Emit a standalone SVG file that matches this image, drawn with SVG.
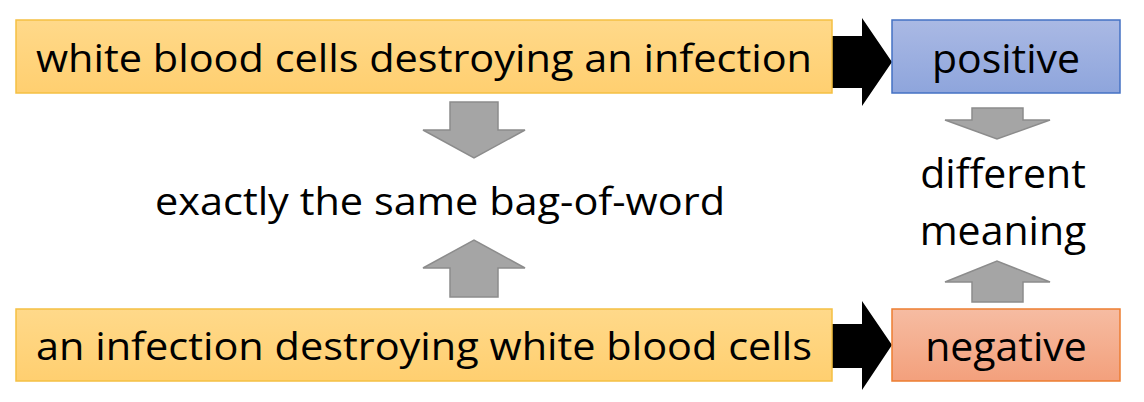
<svg xmlns="http://www.w3.org/2000/svg" width="1144" height="402" viewBox="0 0 1144 402">
<defs>
<linearGradient id="gy" x1="0" y1="0" x2="0" y2="1"><stop offset="0" stop-color="#ffd98a"/><stop offset="1" stop-color="#ffcf70"/></linearGradient>
<linearGradient id="gb" x1="0" y1="0" x2="0" y2="1"><stop offset="0" stop-color="#aab9e4"/><stop offset="1" stop-color="#8ea5dc"/></linearGradient>
<linearGradient id="gr" x1="0" y1="0" x2="0" y2="1"><stop offset="0" stop-color="#f6bca2"/><stop offset="1" stop-color="#f3a07c"/></linearGradient>
<style>
text{font-family:"Open Sans","Liberation Sans",sans-serif;font-size:38px;fill:#000;text-anchor:middle;dominant-baseline:central}
.s{font-size:41px}
.g{fill:#a5a5a5;stroke:#8c8c8c;stroke-width:1.5}
</style>
</defs>
<g id="connectors">
<polygon points="832,36 862,36 862,18 892,62 862,106 862,88 832,88" fill="#000"/>
<polygon points="832,324 862,324 862,301 892,345 862,390 862,368 832,368" fill="#000"/>
<polygon class="g" points="450,102 498,102 498,130 525,130 474,158 423,130 450,130"/>
<polygon class="g" points="450,297 498,297 498,268 525,268 474,240 423,268 450,268"/>
<polygon class="g" points="972,108 1023,108 1023,120 1050,120 997,139 945,120 972,120"/>
<polygon class="g" points="972,302 1023,302 1023,282 1050,282 997,261 945,282 972,282"/>
</g>
<g id="top"><rect x="16" y="20" width="816" height="73" fill="url(#gy)" stroke="#f5c043" stroke-width="1.5"/><text x="424" y="57" textLength="776" lengthAdjust="spacingAndGlyphs">white blood cells destroying an infection</text></g>
<g id="bottom"><rect x="16" y="309" width="816" height="72" fill="url(#gy)" stroke="#f5c043" stroke-width="1.5"/><text x="424" y="345" textLength="776" lengthAdjust="spacingAndGlyphs">an infection destroying white blood cells</text></g>
<g id="positive"><rect x="892" y="20" width="228" height="73" fill="url(#gb)" stroke="#4472c4" stroke-width="1.5"/><text class="s" x="1006" y="57">positive</text></g>
<g id="negative"><rect x="892" y="309" width="228" height="72" fill="url(#gr)" stroke="#ed7d31" stroke-width="1.5"/><text class="s" x="1006" y="345">negative</text></g>
<g id="same"><text x="440" y="200" textLength="570" lengthAdjust="spacingAndGlyphs">exactly the same bag-of-word</text></g>
<g id="diff"><text class="s" x="1003" y="172">different</text><text class="s" x="1003" y="229">meaning</text></g>
</svg>
